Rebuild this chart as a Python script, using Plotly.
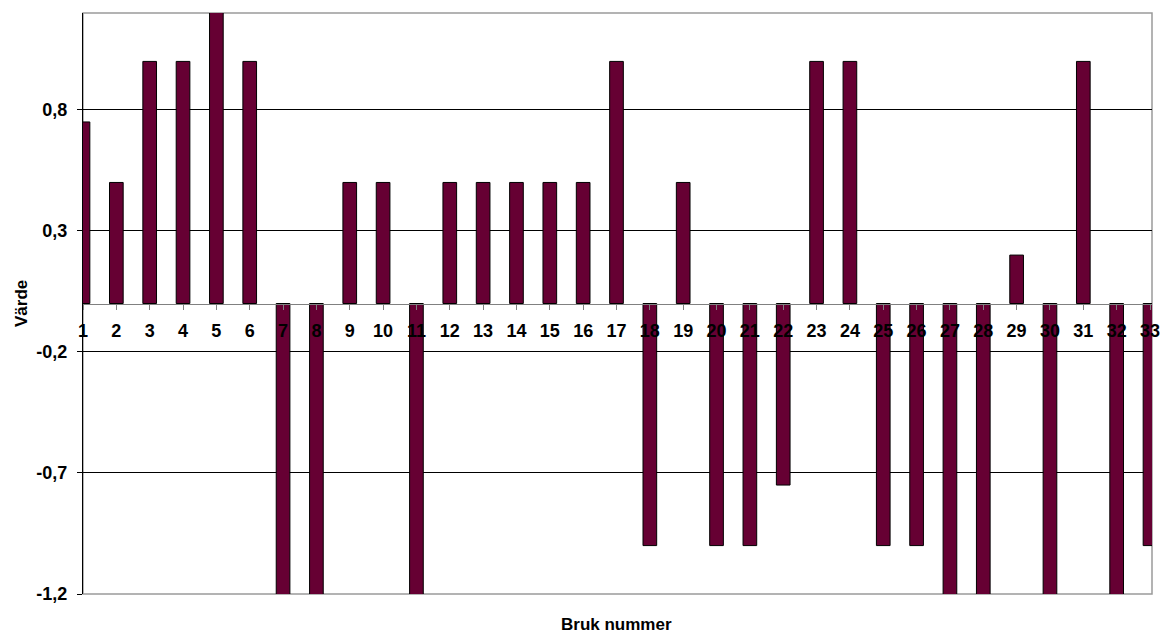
import plotly.graph_objects as go

# Bruk (mill) numbers and their scores
bruk = list(range(1, 34))
varde = [0.75, 0.5, 1, 1, 1.25, 1, -1.25, -1.25, 0.5, 0.5, -1.25,
         0.5, 0.5, 0.5, 0.5, 0.5, 1, -1, 0.5, -1, -1, -0.75,
         1, 1, -1, -1, -1.25, -1.25, 0.2, -1.25, 1, -1.25, -1]

y_tickvals = [-1.2, -0.7, -0.2, 0.3, 0.8]
y_ticktext = ["-1,2", "-0,7", "-0,2", "0,3", "0,8"]
x_tickvals = bruk
x_ticktext = [str(b) for b in bruk]

FONT = "Liberation Sans, Arial, sans-serif"

fig = go.Figure(
    go.Bar(
        x=bruk,
        y=varde,
        width=0.41,
        marker=dict(color="#660033", line=dict(color="#000000", width=1)),
    )
)

fig.update_layout(
    width=1170,
    height=634,
    margin=dict(l=83, r=10, t=13, b=40),
    paper_bgcolor="white",
    plot_bgcolor="white",
    showlegend=False,
    font=dict(family=FONT, color="#000000"),
    shapes=[
        dict(type="rect", xref="paper", yref="paper", x0=0, x1=1, y0=0, y1=1,
             line=dict(color="#9a9a9a", width=1.5), layer="below"),
    ],
    annotations=[
        dict(text="Bruk nummer", xref="paper", yref="paper",
             x=0.499, y=0, yshift=-42, showarrow=False,
             font=dict(size=17, family=FONT, weight="bold")),
        dict(text="Värde", xref="paper", yref="paper",
             x=0, y=0.5, xshift=-73, textangle=-90, showarrow=False,
             font=dict(size=17, family=FONT, weight="bold")),
    ],
)

fig.update_xaxes(
    range=[1, 33.06],
    anchor="free",
    position=0.5,
    tickmode="array",
    tickvals=x_tickvals,
    ticktext=x_ticktext,
    ticks="outside",
    ticklen=5,
    tickcolor="#808080",
    showline=True,
    linecolor="#808080",
    linewidth=1,
    showgrid=False,
    zeroline=False,
    tickfont=dict(size=18, family=FONT, weight="bold"),
    ticklabelstandoff=6,
)

fig.update_yaxes(
    range=[-1.2, 1.2],
    tickmode="array",
    tickvals=y_tickvals,
    ticktext=y_ticktext,
    ticks="outside",
    ticklen=5,
    tickcolor="#000000",
    showline=True,
    linecolor="#000000",
    linewidth=1,
    showgrid=True,
    gridcolor="#000000",
    gridwidth=1,
    zeroline=False,
    tickfont=dict(size=18, family=FONT, weight="bold"),
    ticklabelstandoff=6,
)

fig.write_html("out.html")
